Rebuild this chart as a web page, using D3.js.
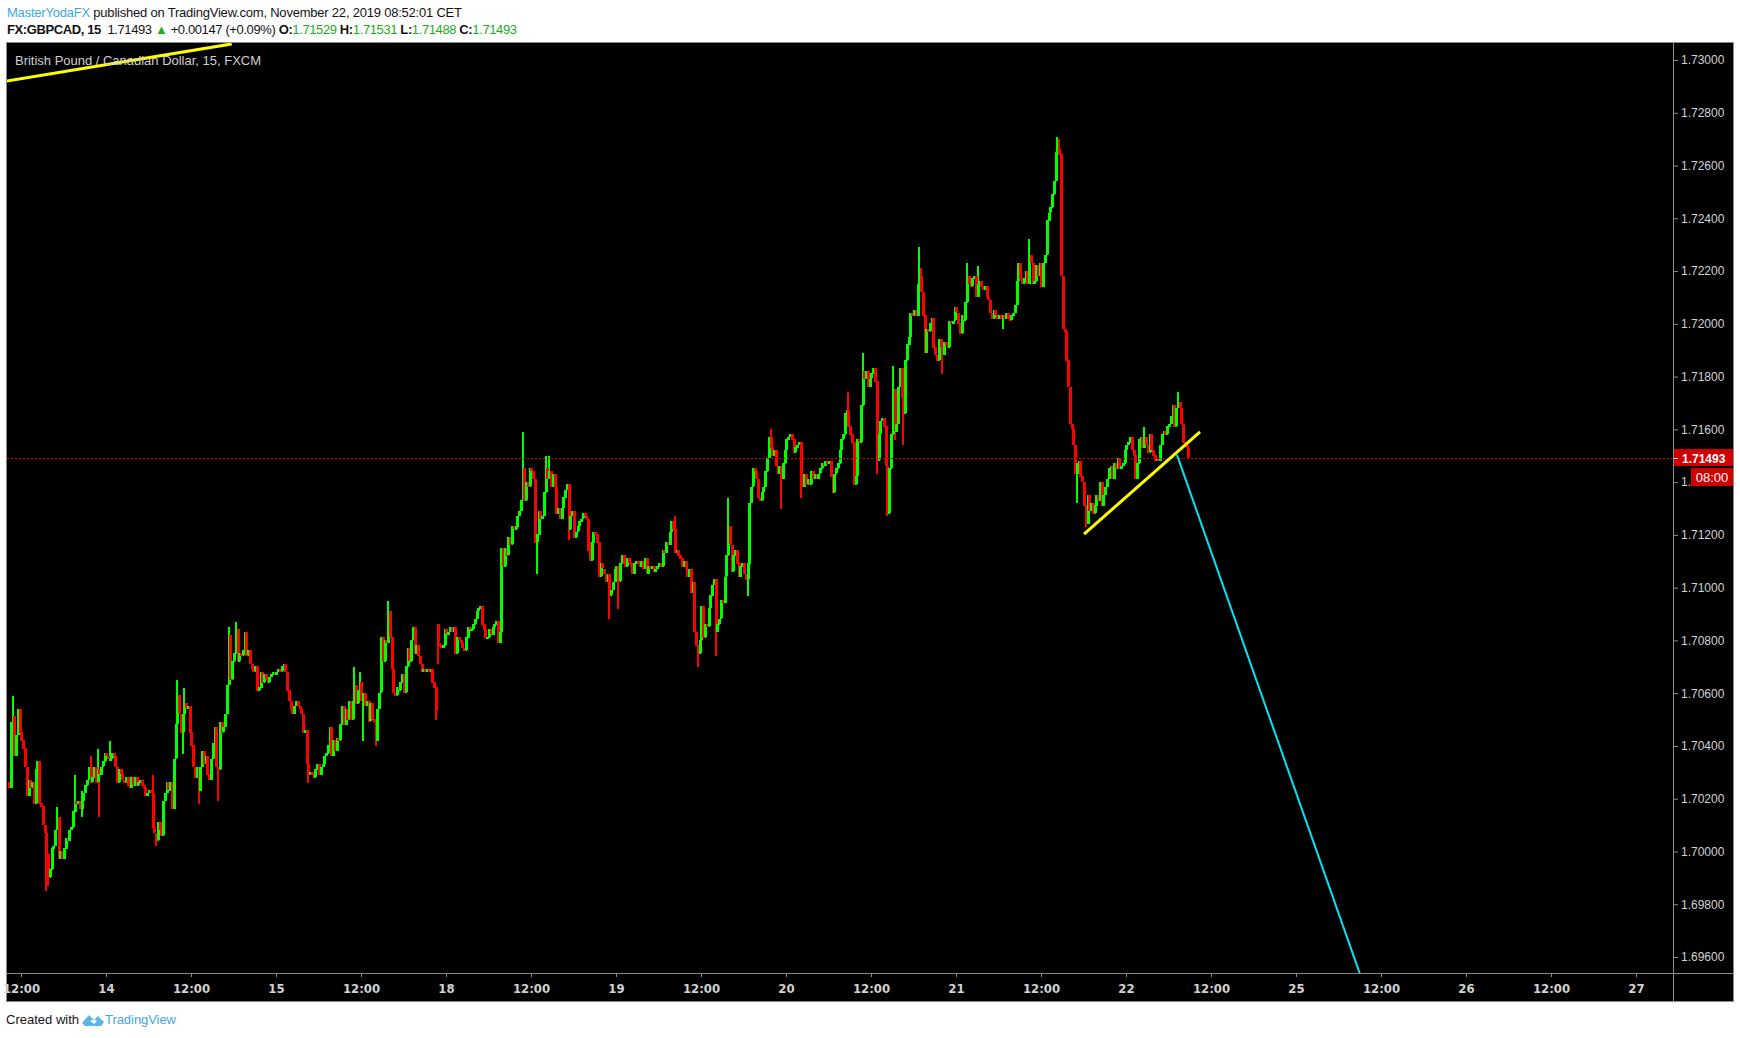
<!DOCTYPE html>
<meta charset="utf-8">

<style>

  html, body {
    margin: 0;
    padding: 0;
    background-color: #fff;
  }

  svg {
    display: block;
  }

  text {
    font-family: "Liberation Sans", Arial, sans-serif;
  }

  .narrow {
    font-family: "Liberation Sans Narrow", "DejaVu Sans Condensed", "Liberation Sans", sans-serif;
  }

</style>

<svg id="chart" width="1740" height="1038"></svg>

<script src="https://d3js.org/d3.v7.min.js"></script>
<script>

  // price ticks on the right axis
  const priceTicks = [1.730, 1.728, 1.726, 1.724, 1.722, 1.720, 1.718, 1.716, 1.714,
    1.712, 1.710, 1.708, 1.706, 1.704, 1.702, 1.700, 1.698, 1.696]

  // time axis labels, one every 48 bars (12 hours of 15 min bars)
  const timeTicks = ["12:00", "14", "12:00", "15", "12:00", "18", "12:00", "19", "12:00", "20",
    "12:00", "21", "12:00", "22", "12:00", "25", "12:00", "26", "12:00", "27"]
  const firstTickBar = 7
  const barsPerTick = 48

  // GBPCAD 15 min closes, 13 Nov 10:15 -> 22 Nov 08:45
  const firstOpen = 1.7026
  const closes = [
    1.7024, 1.7049, 1.7051, 1.7036, 1.7044, 1.7054, 1.7045, 1.7042, 1.7039, 1.7032, 1.7021, 1.7027,
    1.7024, 1.7026, 1.7018, 1.7031, 1.7034, 1.7018, 1.7017, 1.7010, 1.7007, 1.6999, 1.6990, 1.6993,
    1.7001, 1.7002, 1.7008, 1.7013, 1.6997, 1.7000, 1.6997, 1.7001, 1.7005, 1.7004, 1.7008, 1.7009,
    1.7015, 1.7019, 1.7018, 1.7019, 1.7016, 1.7019, 1.7022, 1.7025, 1.7027, 1.7032, 1.7026, 1.7028,
    1.7032, 1.7026, 1.7031, 1.7029, 1.7032, 1.7034, 1.7037, 1.7036, 1.7035, 1.7035, 1.7037, 1.7036,
    1.7032, 1.7026, 1.7031, 1.7029, 1.7027, 1.7026, 1.7028, 1.7025, 1.7024, 1.7028, 1.7025, 1.7028,
    1.7025, 1.7026, 1.7027, 1.7025, 1.7024, 1.7021, 1.7022, 1.7023, 1.7022, 1.7009, 1.7007, 1.7004,
    1.7011, 1.7008, 1.7006, 1.7019, 1.7022, 1.7026, 1.7023, 1.7026, 1.7016, 1.7035, 1.7048, 1.7059,
    1.7052, 1.7045, 1.7052, 1.7056, 1.7054, 1.7055, 1.7045, 1.7040, 1.7032, 1.7028, 1.7032, 1.7023,
    1.7032, 1.7038, 1.7033, 1.7036, 1.7029, 1.7027, 1.7035, 1.7041, 1.7047, 1.7032, 1.7031, 1.7049,
    1.7045, 1.7047, 1.7052, 1.7063, 1.7082, 1.7065, 1.7072, 1.7075, 1.7084, 1.7072, 1.7075, 1.7074,
    1.7076, 1.7083, 1.7074, 1.7076, 1.7071, 1.7069, 1.7068, 1.7070, 1.7061, 1.7062, 1.7068, 1.7064,
    1.7067, 1.7065, 1.7064, 1.7066, 1.7067, 1.7068, 1.7067, 1.7068, 1.7069, 1.7068, 1.7070, 1.7071,
    1.7068, 1.7061, 1.7057, 1.7054, 1.7052, 1.7055, 1.7057, 1.7055, 1.7054, 1.7052, 1.7045, 1.7046,
    1.7033, 1.7029, 1.7030, 1.7029, 1.7028, 1.7031, 1.7033, 1.7029, 1.7032, 1.7033, 1.7036, 1.7037,
    1.7040, 1.7047, 1.7036, 1.7042, 1.7038, 1.7043, 1.7042, 1.7048, 1.7055, 1.7048, 1.7054, 1.7050,
    1.7057, 1.7050, 1.7057, 1.7063, 1.7056, 1.7061, 1.7064, 1.7057, 1.7060, 1.7055, 1.7057, 1.7049,
    1.7056, 1.7050, 1.7049, 1.7042, 1.7054, 1.7060, 1.7081, 1.7072, 1.7080, 1.7079, 1.7091, 1.7081,
    1.7069, 1.7060, 1.7059, 1.7062, 1.7061, 1.7064, 1.7067, 1.7060, 1.7070, 1.7077, 1.7072, 1.7080,
    1.7085, 1.7075, 1.7078, 1.7074, 1.7071, 1.7068, 1.7069, 1.7068, 1.7069, 1.7068, 1.7069, 1.7064,
    1.7062, 1.7053, 1.7079, 1.7078, 1.7077, 1.7078, 1.7084, 1.7082, 1.7083, 1.7085, 1.7083, 1.7085,
    1.7075, 1.7081, 1.7080, 1.7079, 1.7077, 1.7076, 1.7081, 1.7085, 1.7084, 1.7084, 1.7086, 1.7088,
    1.7091, 1.7092, 1.7093, 1.7086, 1.7084, 1.7081, 1.7081, 1.7084, 1.7082, 1.7085, 1.7086, 1.7087,
    1.7079, 1.7083, 1.7115, 1.7108, 1.7115, 1.7112, 1.7119, 1.7116, 1.7123, 1.7122, 1.7123, 1.7127,
    1.7129, 1.7133, 1.7145, 1.7133, 1.7140, 1.7138, 1.7145, 1.7144, 1.7141, 1.7117, 1.7120, 1.7129,
    1.7126, 1.7127, 1.7136, 1.7145, 1.7141, 1.7144, 1.7138, 1.7143, 1.7138, 1.7128, 1.7130, 1.7126,
    1.7130, 1.7134, 1.7137, 1.7139, 1.7122, 1.7127, 1.7129, 1.7119, 1.7121, 1.7123, 1.7125, 1.7126,
    1.7128, 1.7127, 1.7126, 1.7117, 1.7110, 1.7117, 1.7121, 1.7120, 1.7117, 1.7104, 1.7109, 1.7107,
    1.7105, 1.7102, 1.7105, 1.7097, 1.7099, 1.7102, 1.7107, 1.7108, 1.7102, 1.7109, 1.7112, 1.7109,
    1.7108, 1.7111, 1.7109, 1.7108, 1.7105, 1.7109, 1.7110, 1.7109, 1.7108, 1.7110, 1.7107, 1.7111,
    1.7105, 1.7108, 1.7107, 1.7108, 1.7106, 1.7107, 1.7108, 1.7109, 1.7108, 1.7114, 1.7113, 1.7117,
    1.7116, 1.7121, 1.7125, 1.7122, 1.7113, 1.7114, 1.7112, 1.7111, 1.7108, 1.7110, 1.7107, 1.7104,
    1.7107, 1.7098, 1.7102, 1.7083, 1.7078, 1.7075, 1.7080, 1.7093, 1.7081, 1.7086, 1.7085, 1.7092,
    1.7097, 1.7101, 1.7103, 1.7083, 1.7086, 1.7088, 1.7095, 1.7094, 1.7104, 1.7112, 1.7123, 1.7116,
    1.7106, 1.7112, 1.7114, 1.7109, 1.7104, 1.7108, 1.7109, 1.7105, 1.7103, 1.7109, 1.7132, 1.7138,
    1.7145, 1.7144, 1.7141, 1.7134, 1.7133, 1.7136, 1.7138, 1.7144, 1.7149, 1.7157, 1.7153, 1.7150,
    1.7152, 1.7146, 1.7143, 1.7146, 1.7141, 1.7147, 1.7152, 1.7156, 1.7157, 1.7158, 1.7156, 1.7151,
    1.7153, 1.7154, 1.7155, 1.7142, 1.7138, 1.7143, 1.7139, 1.7141, 1.7139, 1.7144, 1.7141, 1.7143,
    1.7141, 1.7143, 1.7145, 1.7147, 1.7146, 1.7148, 1.7147, 1.7148, 1.7142, 1.7136, 1.7143, 1.7145,
    1.7147, 1.7152, 1.7156, 1.7158, 1.7166, 1.7167, 1.7161, 1.7158, 1.7155, 1.7139, 1.7142, 1.7156,
    1.7155, 1.7169, 1.7182, 1.7179, 1.7182, 1.7176, 1.7179, 1.7181, 1.7183, 1.7178, 1.7148, 1.7158,
    1.7163, 1.7164, 1.7161, 1.7146, 1.7128, 1.7145, 1.7158, 1.7175, 1.7159, 1.7162, 1.7176, 1.7183,
    1.7172, 1.7166, 1.7186, 1.7192, 1.7195, 1.7204, 1.7203, 1.7205, 1.7203, 1.7215, 1.7218, 1.7212,
    1.7203, 1.7189, 1.7198, 1.7197, 1.7200, 1.7202, 1.7191, 1.7188, 1.7186, 1.7194, 1.7191, 1.7188,
    1.7193, 1.7192, 1.7191, 1.7201, 1.7200, 1.7201, 1.7206, 1.7204, 1.7200, 1.7196, 1.7203, 1.7201,
    1.7208, 1.7218, 1.7215, 1.7214, 1.7217, 1.7218, 1.7210, 1.7215, 1.7216, 1.7214, 1.7213, 1.7214,
    1.7210, 1.7209, 1.7204, 1.7202, 1.7205, 1.7203, 1.7202, 1.7203, 1.7202, 1.7203, 1.7202, 1.7204,
    1.7202, 1.7201, 1.7203, 1.7204, 1.7207, 1.7216, 1.7223, 1.7217, 1.7215, 1.7217, 1.7220, 1.7215,
    1.7226, 1.7223, 1.7215, 1.7216, 1.7222, 1.7218, 1.7223, 1.7214, 1.7223, 1.7226, 1.7239, 1.7242,
    1.7244, 1.7249, 1.7254, 1.7265, 1.7266, 1.7264, 1.7218, 1.7198, 1.7197, 1.7186, 1.7176, 1.7162,
    1.7160, 1.7154, 1.7143, 1.7147, 1.7148, 1.7142, 1.7140, 1.7131, 1.7124, 1.7135, 1.7129, 1.7132,
    1.7128, 1.7131, 1.7135, 1.7133, 1.7140, 1.7131, 1.7135, 1.7138, 1.7141, 1.7145, 1.7146, 1.7141,
    1.7147, 1.7145, 1.7149, 1.7145, 1.7146, 1.7147, 1.7152, 1.7154, 1.7155, 1.7157, 1.7152, 1.7150,
    1.7141, 1.7147, 1.7156, 1.7157, 1.7153, 1.7157, 1.7154, 1.7151, 1.7158, 1.7152, 1.7150, 1.7148,
    1.7149, 1.7148, 1.7154, 1.7158, 1.7159, 1.7158, 1.7161, 1.7162, 1.7165, 1.7169, 1.7161, 1.7168,
    1.7170, 1.7168, 1.7162, 1.7155, 1.7154, 1.71529, 1.71493
  ]

  // weekend gap: open of the first bar after the gap
  const gapOpens = [[242, 1.7086]]

  // visible wicks: [bar, high, low]
  const wicks = [
    [2, 1.7059, null], [21, null, 1.6985], [22, null, 1.6987], [27, 1.7017, null],
    [37, 1.7029, null], [41, 1.7023, 1.7013], [46, 1.7036, null], [50, 1.7039, null],
    [51, null, 1.7013], [57, 1.7042, null], [81, 1.7029, null], [83, null, 1.7002],
    [95, 1.7065, null], [98, null, 1.7037], [99, 1.7062, null], [107, null, 1.7018],
    [118, null, 1.7019], [124, 1.7085, null], [128, 1.7087, null], [169, null, 1.7026],
    [195, 1.7070, null], [198, 1.7068, null], [200, null, 1.7042], [207, null, 1.7040],
    [214, 1.7095, null], [241, null, 1.7050], [242, null, 1.7071], [290, 1.7159, null],
    [298, null, 1.7105], [303, 1.7150, null], [305, 1.7150, null], [316, null, 1.7118],
    [327, null, 1.7114], [339, null, 1.7088], [344, null, 1.7092], [376, 1.7127, null],
    [385, null, 1.7099], [389, null, 1.7070], [399, null, 1.7074], [406, 1.7134, null],
    [417, null, 1.7097], [430, 1.7160, null], [436, null, 1.7130], [447, null, 1.7134],
    [474, 1.7174, null], [482, 1.7189, null], [490, null, 1.7143], [496, null, 1.7127],
    [499, 1.7184, null], [500, null, 1.7156], [505, null, 1.7154], [514, 1.7229, null],
    [515, 1.7221, null], [527, null, 1.7181], [541, 1.7223, null], [547, 1.7222, null],
    [561, null, 1.7198], [576, 1.7232, null], [592, 1.7271, null], [593, 1.7270, null],
    [603, null, 1.7132], [608, null, 1.7123], [641, 1.7161, null], [660, 1.7174, null],
    [666, 1.71531, 1.71488]
  ]

  // drawings, as [bar, price] pairs
  const trendTop = [[-1, 1.72920], [126, 1.73061]]
  const trendSupport = [[607.3, 1.71203], [672.8, 1.71590]]
  const projection = [[659.8, 1.71503], [765, 1.69500]]

  const lastPrice = 1.71493
  const countdown = "08:00"
  const quote = ["1.71529", "1.71531", "1.71488", "1.71493"]
  const change = "+0.00147 (+0.09%)"


  let svg = d3.select("#chart")

  let pane = { left: 7, right: 1673, top: 43, bottom: 973 }
  let frame = { left: 7, right: 1733, top: 43, bottom: 1001 }

  let x = d3.scaleLinear().domain([-0.9, 939.9]).range([pane.left, pane.right])
  let y = d3.scaleLinear().domain([1.696, 1.730]).range([957, 60])

  let green = "#00ff00"
  let red = "#ff0000"
  let grid = "#8a8a8a"
  let label = "#d2d2d2"

  // build candles
  let gapMap = new Map(gapOpens)
  let wickMap = new Map(wicks.map(w => [w[0], w]))
  let bars = closes.map((c, i) => {
    let o = i === 0 ? firstOpen : (gapMap.has(i) ? gapMap.get(i) : closes[i - 1])
    let w = wickMap.get(i) || [i, null, null]
    let h = Math.max(o, c, w[1] === null ? -Infinity : w[1])
    let l = Math.min(o, c, w[2] === null ? Infinity : w[2])
    return { i, o, h, l, c }
  })


  // frame
  svg.append("rect")
    .attr("x", frame.left - 0.5).attr("y", frame.top - 0.5)
    .attr("width", frame.right - frame.left + 1).attr("height", frame.bottom - frame.top + 1)
    .attr("fill", "#000").attr("stroke", grid)

  svg.append("clipPath").attr("id", "paneClip")
    .append("rect")
    .attr("x", pane.left).attr("y", pane.top)
    .attr("width", pane.right - pane.left).attr("height", pane.bottom - pane.top)

  let plot = svg.append("g").attr("clip-path", "url(#paneClip)")

  let candles = plot.append("g").attr("shape-rendering", "crispEdges")

  candles.selectAll("line")
    .data(bars)
    .join("line")
    .attr("x1", d => Math.floor(x(d.i)) + 1)
    .attr("x2", d => Math.floor(x(d.i)) + 1)
    .attr("y1", d => y(d.h))
    .attr("y2", d => y(d.l))
    .attr("stroke", d => d.c < d.o ? red : green)
    .attr("stroke-width", 2)

  candles.selectAll("rect")
    .data(bars)
    .join("rect")
    .attr("x", d => Math.floor(x(d.i)) - 0.5)
    .attr("width", 3)
    .attr("y", d => Math.floor(y(Math.max(d.o, d.c))))
    .attr("height", d => Math.max(2, Math.round(Math.abs(y(d.o) - y(d.c)))))
    .attr("fill", d => d.c < d.o ? red : green)

  // last price line
  plot.append("line")
    .attr("x1", pane.left).attr("x2", pane.right)
    .attr("y1", Math.round(y(lastPrice)) + 0.5).attr("y2", Math.round(y(lastPrice)) + 0.5)
    .attr("stroke", "#d40000").attr("stroke-dasharray", "2,2")

  let line = d3.line().x(d => x(d[0])).y(d => y(d[1]))

  plot.append("path").datum(trendTop)
    .attr("d", line).attr("fill", "none")
    .attr("stroke", "#ffff00").attr("stroke-width", 3)

  plot.append("path").datum(trendSupport)
    .attr("d", line).attr("fill", "none")
    .attr("stroke", "#ffff00").attr("stroke-width", 3)

  plot.append("path").datum(projection)
    .attr("d", line).attr("fill", "none")
    .attr("stroke", "#00e5f5").attr("stroke-width", 2)

  // pane title
  svg.append("text")
    .attr("x", 15).attr("y", 65)
    .attr("font-size", 13).attr("fill", "#cfcfcf")
    .attr("textLength", 246)
    .text("British Pound / Canadian Dollar, 15, FXCM")

  // axis separators
  svg.append("line")
    .attr("x1", pane.right + 0.5).attr("x2", pane.right + 0.5)
    .attr("y1", frame.top).attr("y2", frame.bottom)
    .attr("stroke", grid)

  svg.append("line")
    .attr("x1", frame.left).attr("x2", frame.right)
    .attr("y1", pane.bottom + 0.5).attr("y2", pane.bottom + 0.5)
    .attr("stroke", grid)

  // price axis
  let yAxis = d3.axisRight(y)
    .tickValues(priceTicks)
    .tickFormat(d3.format(".5f"))
    .tickSize(5)
    .tickPadding(3)

  let ya = svg.append("g")
    .attr("transform", `translate(${pane.right},0)`)
    .call(yAxis)
  ya.select(".domain").remove()
  ya.selectAll("line").attr("stroke", grid)
  ya.selectAll("text")
    .attr("fill", label)
    .attr("font-size", 12)
    .attr("font-family", "Liberation Sans, Arial, sans-serif")

  // time axis
  let tickBars = timeTicks.map((t, k) => firstTickBar + k * barsPerTick)
  let xAxis = d3.axisBottom(x)
    .tickValues(tickBars)
    .tickFormat((d, k) => timeTicks[k])
    .tickSize(4)
    .tickPadding(7)

  let xa = svg.append("g")
    .attr("transform", `translate(0,${pane.bottom})`)
    .call(xAxis)
  xa.select(".domain").remove()
  xa.selectAll("line").attr("stroke", grid)
  xa.selectAll("text")
    .attr("class", "narrow")
    .attr("fill", label)
    .attr("font-size", 13)
    .attr("font-weight", "bold")

  // last price badge
  let py = Math.round(y(lastPrice))
  svg.append("rect")
    .attr("x", pane.right + 1).attr("y", py - 9)
    .attr("width", frame.right - pane.right - 1).attr("height", 17)
    .attr("fill", "#d10000")
  svg.append("line")
    .attr("x1", pane.right + 1).attr("x2", pane.right + 5)
    .attr("y1", py + 0.5).attr("y2", py + 0.5)
    .attr("stroke", "#fff")
  svg.append("text")
    .attr("x", pane.right + 9).attr("y", py + 4.5)
    .attr("font-size", 12).attr("font-weight", "bold").attr("fill", "#fff")
    .text(d3.format(".5f")(lastPrice))

  svg.append("rect")
    .attr("x", 1691).attr("y", py + 10)
    .attr("width", frame.right - 1691).attr("height", 18)
    .attr("fill", "#d10000")
  svg.append("text")
    .attr("x", 1712).attr("y", py + 24)
    .attr("text-anchor", "middle")
    .attr("font-size", 13).attr("fill", "#fff")
    .text(countdown)

  // header
  let h1 = svg.append("text")
    .attr("x", 7).attr("y", 17)
    .attr("font-size", 13).attr("fill", "#131313")
    .attr("textLength", 455)
  h1.append("tspan").attr("fill", "#3fa9dd").text("MasterYodaFX")
  h1.append("tspan").text(" published on TradingView.com, November 22, 2019 08:52:01 CET")

  let h2 = svg.append("text")
    .attr("x", 7).attr("y", 34)
    .attr("font-size", 13).attr("fill", "#131313")
    .attr("textLength", 510)
  h2.append("tspan").attr("font-weight", "bold").text("FX:GBPCAD, 15")
  h2.append("tspan").text("\u00a0 " + quote[3] + " ")
  h2.append("tspan").attr("fill", "#1faa1f").text("\u25b2")
  h2.append("tspan").text(" " + change + " ")
  let names = ["O:", "H:", "L:", "C:"]
  names.forEach((n, k) => {
    h2.append("tspan").attr("font-weight", "bold").text((k ? " " : "") + n)
    h2.append("tspan").attr("fill", "#1faa1f").text(quote[k])
  })

  // footer
  svg.append("text")
    .attr("x", 6).attr("y", 1024)
    .attr("font-size", 13).attr("fill", "#131313")
    .attr("textLength", 73)
    .text("Created with")

  svg.append("path")
    .attr("transform", "translate(82,1012)")
    .attr("d", "M0,11 L7,3 L12,8 L16,4 L22,10 L19,14 L3,14 Z M8,9 L12,12 L15,9 L12,7 Z")
    .attr("fill", "#5ab6e6").attr("fill-rule", "evenodd")

  svg.append("text")
    .attr("x", 105).attr("y", 1024)
    .attr("font-size", 13).attr("fill", "#3fa9dd")
    .attr("textLength", 71)
    .text("TradingView")

</script>
